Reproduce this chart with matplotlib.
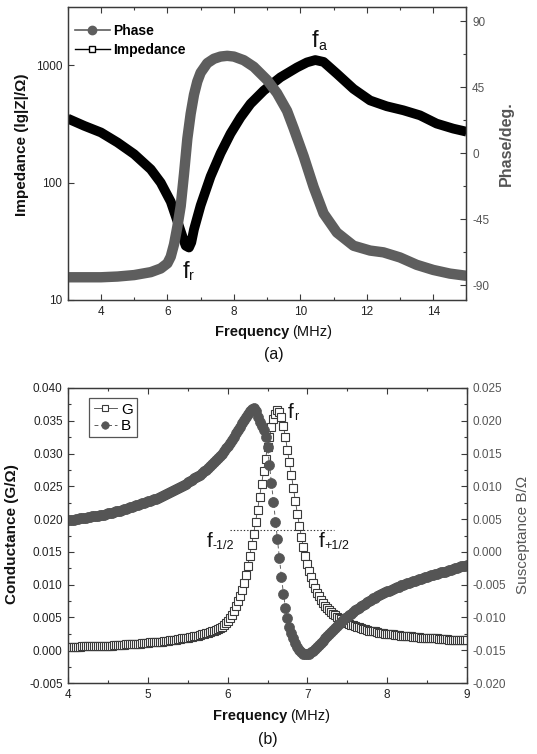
import numpy as np
import matplotlib
matplotlib.use("Agg")
import matplotlib.pyplot as plt
from matplotlib.lines import Line2D
from matplotlib.ticker import FixedLocator, NullLocator, FormatStrFormatter

plt.rcParams['font.family'] = ['Liberation Sans', 'DejaVu Sans']
plt.rcParams['axes.unicode_minus'] = False

# ---------------- data: panel (a) ----------------
freq_imp = [3.0, 3.5, 4.0, 4.5, 5.0, 5.5, 5.8, 6.1, 6.3, 6.45, 6.55, 6.65, 6.72, 6.8,
            7.0, 7.3, 7.6, 7.9, 8.2, 8.5, 8.9, 9.4, 9.9, 10.2, 10.45, 10.7, 11.1,
            11.6, 12.1, 12.6, 13.1, 13.6, 14.1, 14.6, 15.0]
impedance = [352, 305, 268, 220, 175, 130, 100, 69, 47, 35, 29, 28, 31, 40,
             64, 113, 178, 262, 360, 470, 610, 790, 960, 1060, 1110, 1070, 849,
             630, 502, 448, 414, 375, 319, 289, 272]

freq_ph = [3.0, 3.5, 4.0, 4.5, 5.0, 5.5, 5.8, 6.0, 6.1, 6.2, 6.3, 6.4, 6.5, 6.6,
           6.7, 6.8, 6.9, 7.0, 7.2, 7.4, 7.6, 7.8, 8.0, 8.3, 8.6, 9.0, 9.3, 9.6,
           9.8, 10.1, 10.4, 10.7, 11.1, 11.6, 12.1, 12.5, 13.0, 13.5, 14.0, 14.5, 15.0]
phase = [-84.5, -84.5, -84.5, -84, -83, -81, -78.5, -75, -70.5, -62, -50, -36, -14, 10,
         27, 40, 49, 55, 61.5, 64.5, 66, 66.5, 66, 63.5, 59, 50, 41, 29,
         17, -2, -23, -41, -54, -63, -66.3, -67.5, -71, -76, -79.5, -82, -83.5]

# ---------------- data: panel (b) ----------------
# measurement grid: 4.000 ... 9.000 MHz, 0.025 MHz apart (8 values per row below)
freq_b = np.round(np.arange(4.0, 9.0001, 0.025), 3)

conductance = [
    .0005, .0005, .0005, .0005, .0005, .0005, .0005, .0006,   # 4.0
    .0006, .0006, .0006, .0006, .0006, .0006, .0006, .0007,   # 4.2
    .0007, .0007, .0007, .0007, .0007, .0007, .0007, .0008,   # 4.4
    .0008, .0008, .0008, .0008, .0008, .0009, .0009, .0009,   # 4.6
    .0009, .0010, .0010, .0010, .0010, .0011, .0011, .0011,   # 4.8
    .0011, .0012, .0012, .0012, .0012, .0013, .0013, .0013,   # 5.0
    .0014, .0014, .0014, .0015, .0015, .0016, .0016, .0017,   # 5.2
    .0017, .0018, .0018, .0019, .0019, .0020, .0020, .0021,   # 5.4
    .0021, .0022, .0023, .0024, .0025, .0026, .0027, .0028,   # 5.6
    .0029, .0030, .0031, .0033, .0034, .0036, .0039, .0042,   # 5.8
    .0045, .0049, .0054, .0060, .0067, .0075, .0083, .0092,   # 6.0
    .0102, .0114, .0128, .0143, .0160, .0177, .0195, .0214,   # 6.2
    .0233, .0253, .0273, .0292, .0310, .0326, .0340, .0352,   # 6.4
    .0361, .0366, .0364, .0356, .0342, .0325, .0306, .0287,   # 6.6
    .0267, .0247, .0227, .0208, .0190, .0173, .0158, .0144,   # 6.8
    .0132, .0121, .0111, .0103, .0095, .0088, .0082, .0077,   # 7.0
    .0072, .0068, .0064, .0061, .0058, .0055, .0053, .0051,   # 7.2
    .0049, .0047, .0045, .0043, .0042, .0040, .0039, .0038,   # 7.4
    .0037, .0036, .0035, .0034, .0033, .0032, .0031, .0030,   # 7.6
    .0030, .0029, .0029, .0028, .0027, .0027, .0026, .0025,   # 7.8
    .0025, .0025, .0024, .0024, .0023, .0023, .0023, .0022,   # 8.0
    .0022, .0022, .0021, .0021, .0021, .0020, .0020, .0020,   # 8.2
    .0020, .0019, .0019, .0019, .0019, .0018, .0018, .0018,   # 8.4
    .0018, .0018, .0017, .0017, .0017, .0017, .0017, .0016,   # 8.6
    .0016, .0016, .0016, .0016, .0016, .0015, .0015, .0015,   # 8.8
    .0015]                                                    # 9.0

susceptance = [
    .0048, .0048, .0049, .0049, .0050, .0050, .0051, .0051,   # 4.0
    .0052, .0052, .0053, .0053, .0054, .0054, .0055, .0055,   # 4.2
    .0056, .0056, .0057, .0058, .0059, .0059, .0060, .0061,   # 4.4
    .0062, .0062, .0063, .0064, .0065, .0066, .0067, .0068,   # 4.6
    .0069, .0070, .0071, .0072, .0073, .0074, .0075, .0076,   # 4.8
    .0077, .0078, .0079, .0080, .0081, .0082, .0084, .0085,   # 5.0
    .0087, .0088, .0090, .0091, .0093, .0094, .0096, .0097,   # 5.2
    .0099, .0100, .0102, .0104, .0106, .0108, .0110, .0112,   # 5.4
    .0114, .0116, .0118, .0120, .0123, .0125, .0128, .0131,   # 5.6
    .0134, .0137, .0140, .0143, .0147, .0150, .0154, .0158,   # 5.8
    .0162, .0166, .0171, .0176, .0181, .0186, .0191, .0196,   # 6.0
    .0201, .0206, .0211, .0215, .0218, .0219, .0215, .0206,   # 6.2
    .0198, .0192, .0186, .0176, .0160, .0133, .0105, .0076,   # 6.4
    .0046, .0019, -.0010, -.0038, -.0064, -.0085, -.0101, -.0114,   # 6.6
    -.0124, -.0132, -.0139, -.0145, -.0150, -.0153, -.0155, -.0156,  # 6.8
    -.0156, -.0155, -.0153, -.0151, -.0148, -.0145, -.0142, -.0139,  # 7.0
    -.0136, -.0132, -.0129, -.0125, -.0122, -.0119, -.0116, -.0113,  # 7.2
    -.0110, -.0107, -.0104, -.0101, -.0099, -.0096, -.0094, -.0091,  # 7.4
    -.0089, -.0087, -.0085, -.0083, -.0081, -.0079, -.0077, -.0075,  # 7.6
    -.0073, -.0071, -.0070, -.0068, -.0066, -.0064, -.0063, -.0061,  # 7.8
    -.0060, -.0059, -.0058, -.0056, -.0055, -.0054, -.0053, -.0051,  # 8.0
    -.0050, -.0049, -.0048, -.0047, -.0046, -.0045, -.0044, -.0043,  # 8.2
    -.0042, -.0041, -.0040, -.0039, -.0038, -.0037, -.0036, -.0035,  # 8.4
    -.0034, -.0033, -.0032, -.0031, -.0031, -.0030, -.0029, -.0028,  # 8.6
    -.0027, -.0026, -.0025, -.0024, -.0023, -.0022, -.0022, -.0021,  # 8.8
    -.0020]                                                          # 9.0

half_line_x = [6.03, 7.33]

# annotation anchors (data coords): main letter, subscript, x, y
ann_a = [('f', 'r', 6.46, 15.4), ('f', 'a', 10.34, 1420)]
ann_b = [('f', 'r', 6.76, 0.0354), ('f', '-1/2', 5.74, 0.0157), ('f', '+1/2', 7.14, 0.0157)]

# ---------------- figure ----------------
W, H = 537, 754
fig = plt.figure(figsize=(W / 100, H / 100), dpi=100)


def fx(px):
    return px / W


def fy(py):
    return 1 - py / H


GRAY = '#5e5e5e'
SPINE = '#3a3a3a'
RCOL = '#555555'
ann_font = ['Liberation Sans Narrow', 'Liberation Sans', 'DejaVu Sans']


def style_axes(ax, axr):
    for a in (ax, axr):
        for s in a.spines.values():
            s.set_color(SPINE)
            s.set_linewidth(0.9)
    ax.tick_params(which='both', direction='in', top=True, right=False,
                   labelsize=8.5, colors=SPINE, labelcolor='#222222', pad=4)
    ax.tick_params(which='major', length=4.5, width=0.8)
    ax.tick_params(which='minor', length=2.5, width=0.8)
    axr.tick_params(which='both', direction='in', left=False, right=True,
                    labelsize=8.5, colors=SPINE, labelcolor=RCOL, pad=4)
    axr.tick_params(which='major', length=4.5, width=0.8)
    axr.tick_params(which='minor', length=2.5, width=0.8)


def annotate_f(ax, items, fs):
    for main, sub, x, y in items:
        ax.text(x, y, main, fontsize=fs, family=ann_font, ha='left', va='baseline',
                color='#111111', zorder=6)
        ax.annotate(sub, xy=(x, y), xytext=(fs * 0.27, -fs * 0.09),
                    textcoords='offset points', fontsize=fs * 0.6, family=ann_font,
                    ha='left', va='baseline', color='#111111', zorder=6)


# ---------- panel (a) ----------
ax1 = fig.add_axes([fx(67.7), fy(300), fx(466.5) - fx(67.7), fy(6.7) - fy(300)])
ax1.set_yscale('log')
ax1.set_xlim(3, 15)
ax1.set_ylim(10, 3162)
ax1.plot(freq_imp, impedance, color='black', lw=7, solid_joinstyle='round',
         solid_capstyle='butt', zorder=2)
ax1.yaxis.set_major_locator(FixedLocator([10, 100, 1000]))
ax1.yaxis.set_minor_locator(NullLocator())
ax1.yaxis.set_major_formatter(FormatStrFormatter('%d'))
ax1.xaxis.set_major_locator(FixedLocator([4, 6, 8, 10, 12, 14]))
ax1.xaxis.set_minor_locator(FixedLocator([3, 5, 7, 9, 11, 13, 15]))

ax1r = ax1.twinx()
ax1r.set_ylim(-100, 100)
ax1r.plot(freq_ph, phase, color=GRAY, lw=7.5, solid_joinstyle='round',
          solid_capstyle='butt')
ax1r.yaxis.set_major_locator(FixedLocator([-90, -45, 0, 45, 90]))
ax1r.yaxis.set_minor_locator(FixedLocator([-67.5, -22.5, 22.5, 67.5]))
style_axes(ax1, ax1r)

leg_a = [Line2D([], [], color=GRAY, lw=1.2, marker='o', ms=6, mfc=GRAY, mec=GRAY),
         Line2D([], [], color='black', lw=1.0, marker='s', ms=5, mfc='white', mec='black')]
ax1r.legend(leg_a, ['Phase', 'Impedance'], loc='upper left', bbox_to_anchor=(0.018, 0.94),
            frameon=False, prop={'weight': 'bold', 'size': 10}, handlelength=2.5,
            handletextpad=0.25, labelspacing=0.35, borderpad=0, borderaxespad=0)

annotate_f(ax1, ann_a, 17)

fig.text(fx(22), fy(144.5), 'Impedance (lg|Z|/Ω)', rotation=90, ha='center', va='center',
         fontsize=11, fontweight='bold', color='#111111')
fig.text(fx(506), fy(144), 'Phase/deg.', rotation=90, ha='center', va='center',
         fontsize=11.5, fontweight='bold', color=RCOL)
fig.text(fx(289), fy(336), 'Frequency', ha='right', va='baseline', fontsize=10.5,
         fontweight='bold', color='#111111')
fig.text(fx(292), fy(336), '(MHz)', ha='left', va='baseline', fontsize=10.5, color='#111111')
fig.text(fx(274), fy(359), '(a)', ha='center', va='baseline', fontsize=11.5, color='#111111')

# ---------- panel (b) ----------
ax2 = fig.add_axes([fx(68.3), fy(683), fx(466.7) - fx(68.3), fy(388) - fy(683)])
ax2.set_xlim(4, 9)
ax2.set_ylim(-0.005, 0.040)
hG, = ax2.plot(freq_b, conductance, color='#444444', lw=0.6, marker='s', ms=6,
               mfc='white', mec='#3a3a3a', mew=0.8, zorder=2)
half = max(conductance) / 2
ax2.plot(half_line_x, [half, half], ls=(0, (1.2, 1.8)), color='#333333', lw=0.8, zorder=3)
ax2.xaxis.set_major_locator(FixedLocator([4, 5, 6, 7, 8, 9]))
ax2.xaxis.set_minor_locator(FixedLocator([4.5, 5.5, 6.5, 7.5, 8.5]))
ax2.yaxis.set_major_locator(FixedLocator(np.arange(-0.005, 0.0401, 0.005)))
ax2.yaxis.set_minor_locator(FixedLocator(np.arange(-0.0025, 0.0401, 0.005)))
ax2.yaxis.set_major_formatter(FormatStrFormatter('%.3f'))
ax2.xaxis.set_major_formatter(FormatStrFormatter('%d'))

ax2r = ax2.twinx()
ax2r.set_ylim(-0.020, 0.025)
hB, = ax2r.plot(freq_b, susceptance, color=GRAY, lw=0.7, ls=(0, (4, 3)), marker='o',
                ms=7.2, mfc='#555555', mec='#555555', mew=0.5)
ax2r.yaxis.set_major_locator(FixedLocator(np.arange(-0.020, 0.0251, 0.005)))
ax2r.yaxis.set_minor_locator(FixedLocator(np.arange(-0.0175, 0.0251, 0.005)))
ax2r.yaxis.set_major_formatter(FormatStrFormatter('%.3f'))
style_axes(ax2, ax2r)

leg = ax2r.legend([hG, hB], ['G', 'B'], loc='upper left', bbox_to_anchor=(0.052, 0.966),
                  frameon=True, fancybox=False, edgecolor='#555555', framealpha=1,
                  fontsize=11, handlelength=1.5, handletextpad=0.3, labelspacing=0.15,
                  borderpad=0.3, borderaxespad=0, markerscale=0.75)
leg.get_frame().set_linewidth(0.9)

annotate_f(ax2, ann_b, 15)

fig.text(fx(12.5), fy(534), 'Conductance (G/Ω)', rotation=90, ha='center', va='center',
         fontsize=11, fontweight='bold', color='#111111')
fig.text(fx(522.5), fy(535), 'Susceptance B/Ω', rotation=90, ha='center', va='center',
         fontsize=11, color=RCOL)
fig.text(fx(287), fy(720), 'Frequency', ha='right', va='baseline', fontsize=10.5,
         fontweight='bold', color='#111111')
fig.text(fx(290), fy(720), '(MHz)', ha='left', va='baseline', fontsize=10.5, color='#111111')
fig.text(fx(268), fy(744), '(b)', ha='center', va='baseline', fontsize=11.5, color='#111111')

fig.savefig('out.png', dpi=100)
